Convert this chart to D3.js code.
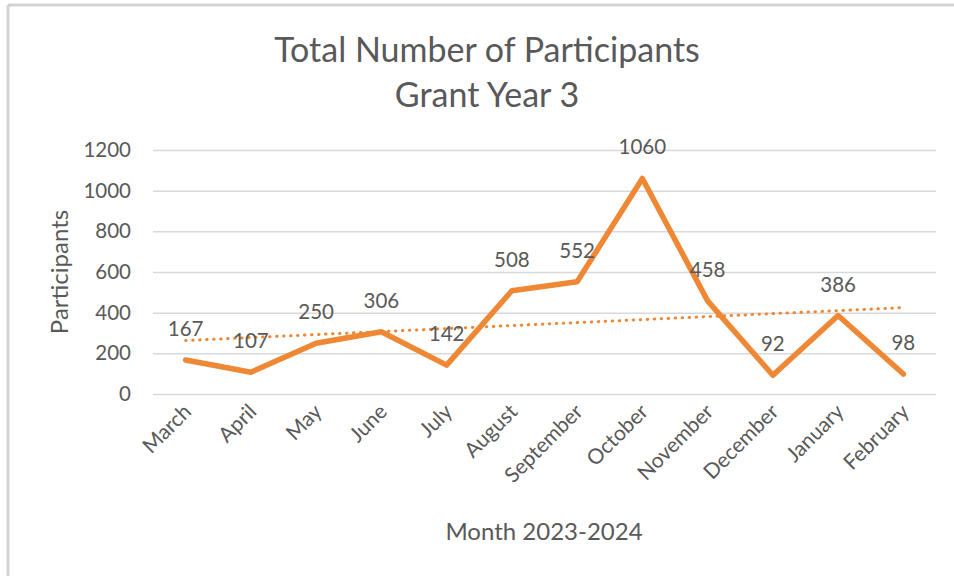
<!DOCTYPE html>
<html>
<head>
<meta charset="utf-8">
<script src="https://cdn.jsdelivr.net/npm/d3@7"></script>
<style>
html,body{margin:0;padding:0;background:#fff;}
svg{display:block;}
</style>
</head>
<body>
<div id="chart"></div>
<script>
// data
const months=["March","April","May","June","July","August","September","October","November","December","January","February"];
const participants=[167,107,250,306,142,508,552,1060,458,92,386,98];
const yTicks=[0,200,400,600,800,1000,1200];

const W=954,H=576;
const FONT="Lato, 'Open Sans', sans-serif";
const TXT="#595959",ORANGE="#EE8834",GRID="#d9d9d9";
const m={l:153,r:18,t:150,b:182};

const svg=d3.select("#chart").append("svg").attr("width",W).attr("height",H);
svg.append("rect").attr("width",W).attr("height",H).attr("fill","#fff");

// frame (only top and left edges show)
svg.append("line").attr("x1",8).attr("x2",W).attr("y1",5).attr("y2",5).attr("stroke","#d4d4d4").attr("stroke-width",3);
svg.append("line").attr("x1",8).attr("x2",8).attr("y1",5).attr("y2",H).attr("stroke","#d4d4d4").attr("stroke-width",3);

const x=d3.scaleBand().domain(months).range([m.l,W-m.r]);
const y=d3.scaleLinear().domain([0,1200]).range([H-m.b,m.t]);
const cx=d=>x(d)+x.bandwidth()/2;

// gridlines + y labels
const ya=svg.append("g").attr("transform",`translate(${m.l},0)`)
  .call(d3.axisLeft(y).tickValues(yTicks).tickSize(-(W-m.l-m.r)).tickPadding(22).tickFormat(d3.format("d")));
ya.select(".domain").remove();
ya.selectAll(".tick line").attr("stroke",GRID).attr("stroke-width",1.5);
ya.selectAll(".tick text").attr("fill",TXT).attr("font-family",FONT).attr("font-size",20.5);

// x labels
const xa=svg.append("g").attr("transform",`translate(0,${H-m.b})`)
  .call(d3.axisBottom(x).tickSize(0).tickPadding(0));
xa.select(".domain").remove();
xa.selectAll(".tick text").attr("fill",TXT).attr("font-family",FONT).attr("font-size",21)
  .attr("text-anchor","end").attr("dy",0)
  .attr("transform","translate(7,19) rotate(-45)");

// trendline (least squares over the months)
const n=participants.length;
const xs=d3.range(n);
const mx=d3.mean(xs),my=d3.mean(participants);
const slope=d3.sum(xs,i=>(i-mx)*(participants[i]-my))/d3.sum(xs,i=>(i-mx)*(i-mx));
const icpt=my-slope*mx;
svg.append("line")
  .attr("x1",cx(months[0])).attr("y1",y(icpt))
  .attr("x2",cx(months[n-1])).attr("y2",y(icpt+slope*(n-1)))
  .attr("stroke",ORANGE).attr("stroke-width",3).attr("stroke-linecap","round")
  .attr("stroke-dasharray","0.5,6.5");

// main series
const line=d3.line().x((d,i)=>cx(months[i])).y(d=>y(d));
svg.append("path").datum(participants).attr("d",line)
  .attr("fill","none").attr("stroke",ORANGE).attr("stroke-width",5.5)
  .attr("stroke-linejoin","round").attr("stroke-linecap","round");

// data labels
svg.append("g").selectAll("text").data(participants).join("text")
  .attr("x",(d,i)=>cx(months[i])).attr("y",d=>y(d)-24)
  .attr("text-anchor","middle").attr("font-family",FONT).attr("font-size",20.5).attr("fill",TXT)
  .text(d=>d);

// titles
svg.append("text").attr("x",487).attr("y",62).attr("text-anchor","middle")
  .attr("font-family",FONT).attr("font-size",34).attr("fill",TXT).text("Total Number of Participants");
svg.append("text").attr("x",487).attr("y",107).attr("text-anchor","middle")
  .attr("font-family",FONT).attr("font-size",34).attr("fill",TXT).text("Grant Year 3");
svg.append("text").attr("transform","translate(68,272) rotate(-90)").attr("text-anchor","middle")
  .attr("font-family",FONT).attr("font-size",24).attr("fill",TXT).text("Participants");
svg.append("text").attr("x",544).attr("y",540).attr("text-anchor","middle")
  .attr("font-family",FONT).attr("font-size",24).attr("fill",TXT).text("Month 2023-2024");
</script>
</body>
</html>
